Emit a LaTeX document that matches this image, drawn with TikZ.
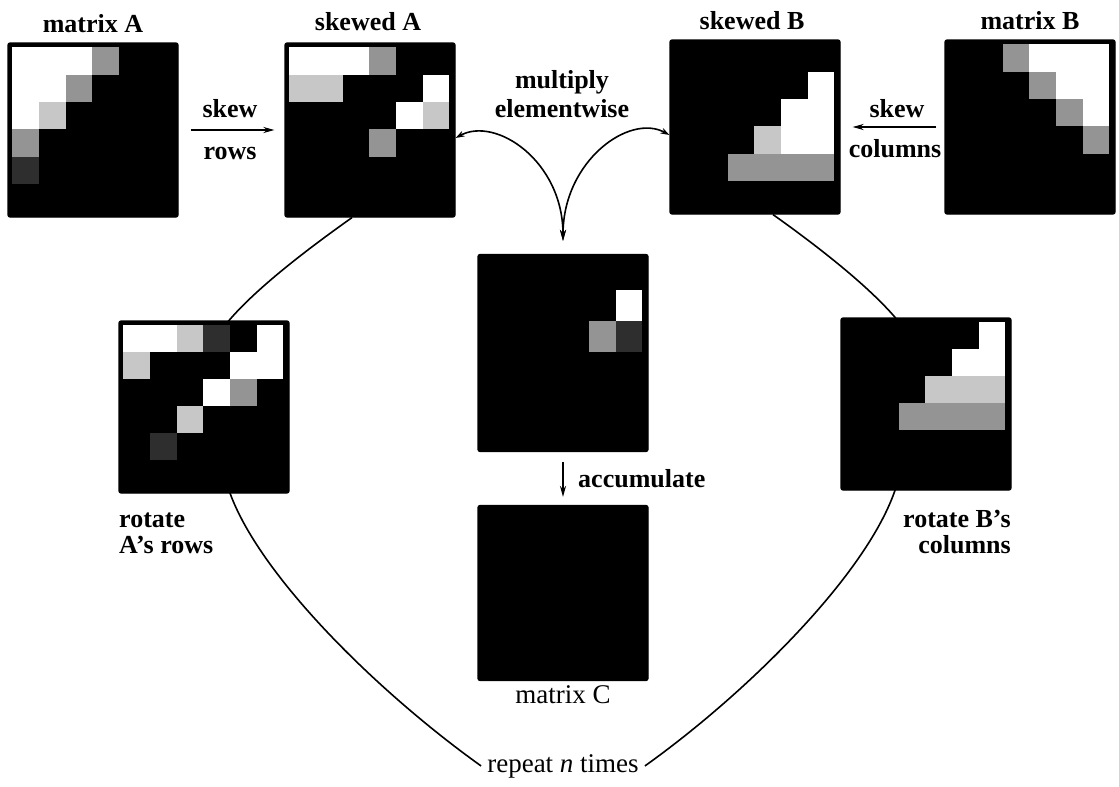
\documentclass[tikz,border=0pt]{standalone}
\usepackage{fontspec}
\setmainfont{Liberation Serif}
\usetikzlibrary{calc,arrows.meta}
\colorlet{spkA}{black!22}
\colorlet{spkB}{black!42}
\colorlet{spkC}{black!65}
\colorlet{spkD}{black!82}
\newcommand\mycells[4]{%
  \pgfmathsetmacro\cw{(#2-10)/6}%
  \pgfmathsetmacro\ch{(#3-10)/6}%
  \foreach \i/\j/\c in {#4}{%
    \fill[\c] ($(#1.north west)+({5+(\j-1)*\cw},{5+(\i-1)*\ch})$) rectangle +(\cw,\ch);
  }%
}
\begin{document}
\begin{tikzpicture}[x=1pt,y=-1pt,
  mat/.style={fill=black,draw=black,line width=1.2pt,rounded corners=2pt,inner sep=0pt,minimum width=170pt,minimum height=174pt},
  lbl/.style={font=\fontsize{26}{27}\selectfont\bfseries,inner sep=0pt,anchor=base},
  lblr/.style={font=\fontsize{27}{28}\selectfont,inner sep=0pt,anchor=base},
  conn/.style={line width=1.6pt},
  arr/.style={line width=1.6pt,-{Stealth[length=11pt,width=6pt]}},
]
\useasboundingbox[fill=white] (0,0) rectangle (1119,787);

% matrices
\node[mat] (mA) at (93,130) {};
\node[mat] (sA) at (370,130) {};
\node[mat] (sB) at (755,127) {};
\node[mat] (mB) at (1030,127) {};
\node[mat,minimum height=197pt] (P) at (563,353) {};
\node[mat,minimum height=175pt] (C) at (563,593) {};

% labels
\node[lbl] (lmA) at (93,32) {matrix A};
\node[lbl] (lsA) at (368,30) {skewed A};
\node[lbl] (lsB) at (752,29) {skewed B};
\node[lbl] (lmB) at (1030,29) {matrix B};
\node[lbl] (sk1) at (230,117) {skew};
\node[lbl] (rw1) at (230,159) {rows};
\node[lbl] (sk2) at (897,117) {skew};
\node[lbl] (cl2) at (895,157) {columns};
\node[lbl] (mul) at (562,88) {multiply};
\node[lbl] (elw) at (562,117) {elementwise};
\node[lbl,anchor=base west] (acc) at (578,487) {accumulate};
\node[lblr] (lC) at (563,703) {matrix C};
\node[lblr,inner sep=6pt] (rep) at (563,772) {repeat \textit{n} times};
\node[lbl,anchor=base west] (ro1) at (119,527) {rotate};
\node[lbl,anchor=base west] (ro2) at (119,553) {A’s rows};
\node[lbl,anchor=base east] (ro3) at (1011,527) {rotate B’s};
\node[lbl,anchor=base east] (ro4) at (1011,553) {columns};

% big loop (passes behind the rotated matrices)
\coordinate (t1) at (220,332);
\coordinate (lm) at (212,405);
\coordinate (b1) at (227,484);
\coordinate (t2) at (905,330);
\coordinate (rm) at (914,405);
\coordinate (b2) at (897,484);
\draw[conn] ([xshift=-18pt]sA.south) .. controls +(-41,29) and +(26,-37) .. (t1)
  .. controls +(-8,20) and +(0,-30) .. (lm)
  .. controls +(0,35) and +(-8,-25) .. (b1)
  .. controls +(25,85) and +(-105,-75) .. (rep.west);
\draw[conn] ([xshift=18pt]sB.south) .. controls +(41,29) and +(-26,-37) .. (t2)
  .. controls +(8,20) and +(0,-30) .. (rm)
  .. controls +(0,35) and +(8,-25) .. (b2)
  .. controls +(-25,85) and +(105,-75) .. (rep.east);

% rotated matrices
\node[mat,minimum height=172pt] (rA) at (204,407) {};
\node[mat,minimum height=172pt] (rB) at (926,404) {};

% cell patterns
\mycells{mA}{170}{174}{1/1/white,1/2/white,1/3/white,1/4/spkB,2/1/white,2/2/white,2/3/spkB,3/1/white,3/2/spkA,4/1/spkB,5/1/spkD}
\mycells{sA}{170}{174}{1/1/white,1/2/white,1/3/white,1/4/spkB,2/1/spkA,2/2/spkA,2/6/white,3/5/white,3/6/spkA,4/4/spkB}
\mycells{sB}{170}{174}{2/6/white,3/5/white,3/6/white,4/4/spkA,4/5/white,4/6/white,5/3/spkB,5/4/spkB,5/5/spkB,5/6/spkB}
\mycells{mB}{170}{174}{1/3/spkB,1/4/white,1/5/white,1/6/white,2/4/spkB,2/5/white,2/6/white,3/5/spkB,3/6/white,4/6/spkB}
\mycells{P}{170}{197}{2/6/white,3/5/spkB,3/6/spkD}
\mycells{rA}{170}{172}{1/1/white,1/2/white,1/3/spkA,1/4/spkD,1/6/white,2/1/spkA,2/5/white,2/6/white,3/4/white,3/5/spkB,4/3/spkA,5/2/spkD}
\mycells{rB}{170}{172}{1/6/white,2/5/white,2/6/white,3/4/spkA,3/5/spkA,3/6/spkA,4/3/spkB,4/4/spkB,4/5/spkB,4/6/spkB}

% arrows
\draw[arr] ([xshift=12pt]mA.east) -- ([xshift=-10pt]sA.west);
\draw[arr] ([xshift=-8pt]mB.west) -- ([xshift=12pt]sB.east);
\draw[conn,{Stealth[length=9pt,width=6pt]}-{Stealth[length=11pt,width=6pt]}]
  ([yshift=-8pt]sA.east) .. controls +(40,-22) and +(0,-80) .. ([yshift=13pt]P.north);
\draw[conn,{Stealth[length=9pt,width=6pt]}-{Stealth[length=11pt,width=6pt]}]
  ([yshift=-8pt]sB.west) .. controls +(-40,-22) and +(0,-80) .. ([yshift=13pt]P.north);
\draw[arr] ([yshift=-10pt]P.south) -- ([yshift=8pt]C.north);
\end{tikzpicture}
\end{document}
